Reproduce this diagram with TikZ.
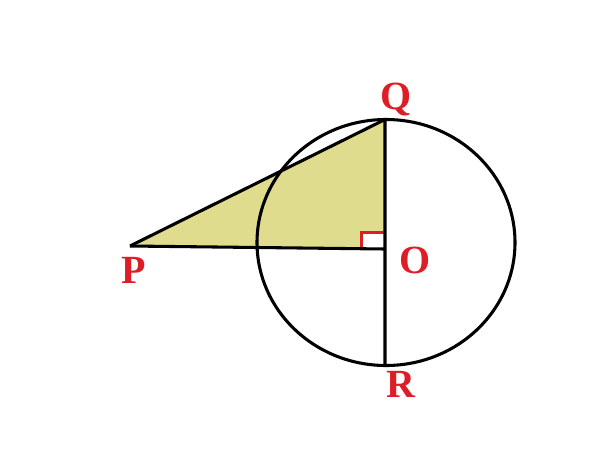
\documentclass[tikz,border=0pt]{standalone}
\usepackage{fontspec}
\setmainfont{Liberation Serif}
\usepackage{tikz}

\definecolor{lblred}{RGB}{222,30,38}
\definecolor{trifill}{RGB}{224,220,142}

\begin{document}
\begin{tikzpicture}[x=0.75pt,y=-0.75pt,
    lbl/.style={text=lblred,font=\bfseries\fontsize{30}{30}\selectfont,inner sep=0pt},
    edge/.style={line width=2.3pt,line join=round}]

  \useasboundingbox (0,0) rectangle (600,450);

  % points
  \coordinate (P) at (130,246);
  \coordinate (Q) at (385,119.5);
  \coordinate (O) at (385,249);
  \coordinate (R) at (385,365.5);
  \coordinate (C) at (386,242.5);

  % shaded triangle
  \fill[trifill] (P) -- (Q) -- (O) -- cycle;

  % circle
  \draw[edge] (C) ellipse [x radius=129, y radius=123];

  % right angle
  \fill[white] (361.5,249) rectangle (385,232.5);
  \draw[lblred,line width=1.6pt] (361.5,249) -- (361.5,232.5) -- (385,232.5);

  % sides
  \draw[edge] (P) -- (Q) -- (R);
  \draw[edge] (P) -- (O);

  % labels
  \node[lbl] (Qlbl) at (396,99) {Q};
  \node[lbl] (Olbl) at (415.5,260) {O};
  \node[lbl] (Rlbl) at (401,384) {R};
  \node[lbl] (Plbl) at (134,270.5) {P};

\end{tikzpicture}
\end{document}
